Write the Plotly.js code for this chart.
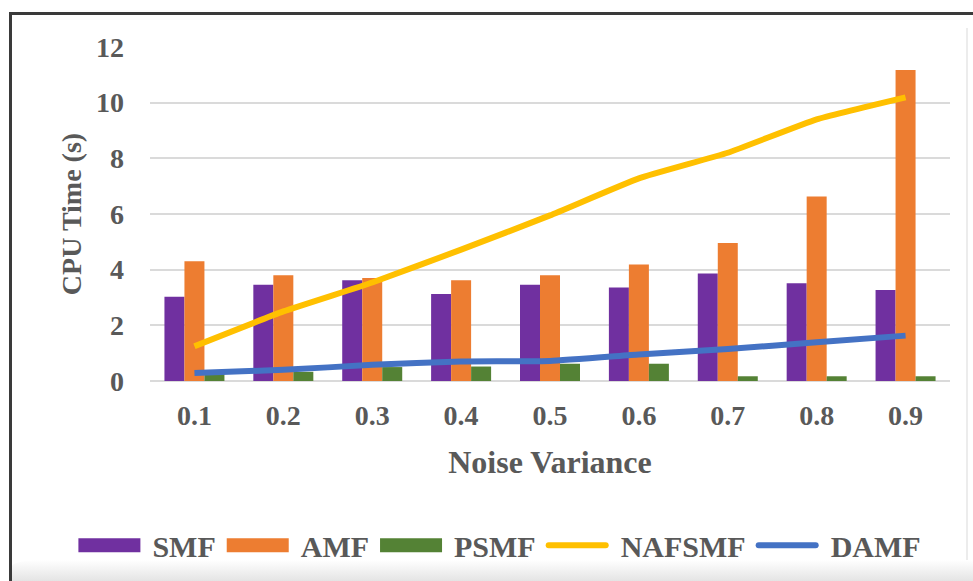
<!DOCTYPE html>
<html>
<head>
<meta charset="utf-8">
<script src="https://cdn.plot.ly/plotly-3.0.1.min.js"></script>
<style>
  html, body { margin: 0; padding: 0; background: #ffffff; }
  #wrap { position: relative; width: 973px; height: 581px; overflow: hidden; background: #fff; }
  #frame { position: absolute; left: 9px; top: 12px; width: 970px; height: 580px;
           border-top: 3px solid #3a3a3a; border-left: 3px solid #3a3a3a; box-sizing: border-box; }
  #rline { position: absolute; left: 966px; top: 28px; width: 2px; height: 540px; background: #ececec; }
  #shadow { position: absolute; left: 12px; top: 560px; width: 961px; height: 21px;
            background: linear-gradient(to bottom, #ffffff, #e4e4e4); border-top-left-radius: 30px 6px; }
  #chart { position: absolute; left: 0; top: 0; width: 973px; height: 581px; }
</style>
</head>
<body>
<div id="wrap">
  <div id="frame"></div>
  <div id="rline"></div>
  <div id="shadow"></div>
  <div id="chart"></div>
</div>
<script>
const categories = ['0.1', '0.2', '0.3', '0.4', '0.5', '0.6', '0.7', '0.8', '0.9'];
const smf    = [3.03, 3.46, 3.62, 3.13, 3.46, 3.36, 3.86, 3.51, 3.27];
const amf    = [4.30, 3.80, 3.70, 3.62, 3.80, 4.19, 4.96, 6.63, 11.17];
const psmf   = [0.30, 0.33, 0.50, 0.52, 0.62, 0.62, 0.17, 0.17, 0.17];
const nafsmf = [1.25, 2.50, 3.54, 4.72, 5.95, 7.28, 8.20, 9.40, 10.19];
const damf   = [0.29, 0.40, 0.58, 0.70, 0.72, 0.95, 1.15, 1.39, 1.63];
const yTicks = [0, 2, 4, 6, 8, 10, 12];

const FONT = 'Liberation Serif';
const TXT = '#595959';

const traces = [
  { type: 'bar', name: 'SMF', x: categories, y: smf, marker: { color: '#7030A0' } },
  { type: 'bar', name: 'AMF', x: categories, y: amf, marker: { color: '#ED7D31' } },
  { type: 'bar', name: 'PSMF', x: categories, y: psmf, marker: { color: '#548235' } },
  { type: 'scatter', mode: 'lines', name: 'NAFSMF', x: categories, y: nafsmf,
    line: { color: '#FFC000', width: 6, shape: 'spline', smoothing: 0.4 } },
  { type: 'scatter', mode: 'lines', name: 'DAMF', x: categories, y: damf,
    line: { color: '#4472C4', width: 6, shape: 'spline', smoothing: 0.4 } }
];

const layout = {
  width: 973, height: 581,
  paper_bgcolor: 'rgba(0,0,0,0)', plot_bgcolor: 'rgba(0,0,0,0)',
  margin: { l: 150, r: 23, t: 47, b: 199 },
  barmode: 'group', bargap: 0.325, bargroupgap: 0,
  font: { family: FONT, color: TXT, size: 28, weight: 'bold' },
  xaxis: {
    type: 'category', showgrid: false, ticks: '', showline: false, zeroline: false,
    tickfont: { family: FONT, size: 28, color: TXT, weight: 'bold' },
    ticklabelstandoff: 15,
    title: { text: 'Noise Variance', standoff: 20,
             font: { family: FONT, size: 32, color: TXT, weight: 'bold' } }
  },
  yaxis: {
    range: [0, 12], tickvals: yTicks, ticktext: yTicks.map(String),
    showgrid: true, gridcolor: '#dadada', gridwidth: 2,
    zeroline: true, zerolinecolor: '#dadada', zerolinewidth: 2,
    ticks: '', showline: false,
    tickfont: { family: FONT, size: 28, color: TXT, weight: 'bold' },
    ticklabelstandoff: 25,
    title: { text: 'CPU Time (s)', standoff: 6,
             font: { family: FONT, size: 28, color: TXT, weight: 'bold' } }
  },
  showlegend: true,
  legend: {
    orientation: 'h', x: -0.097, xanchor: 'left', y: -0.487, yanchor: 'middle',
    font: { family: FONT, size: 30, color: TXT, weight: 'bold' },
    traceorder: 'normal', itemwidth: 70
  }
};

Plotly.newPlot('chart', traces, layout, { displayModeBar: false, staticPlot: true }).then(function (gd) {
  // widen the legend swatches to match the reference's long keys
  gd.querySelectorAll('.legend .legendpoints path').forEach(function (p) {
    const d = p.getAttribute('d') || '';
    if (/^M6,6H-6V-6H6Z/.test(d)) {
      p.setAttribute('d', 'M-34,7H28V-7H-34Z');
    }
  });
  gd.querySelectorAll('.legend .legendlines path').forEach(function (p) {
    p.setAttribute('d', 'M8,0h57');
    p.style.strokeLinecap = 'round';
  });
});
</script>
</body>
</html>
